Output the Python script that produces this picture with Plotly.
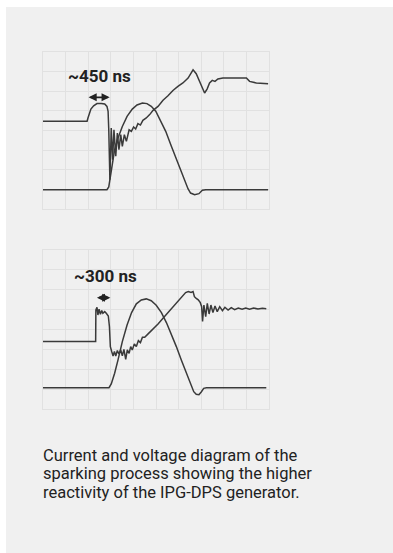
import plotly.graph_objects as go

# ---- data (oscilloscope divisions: x 0..10, y 0..8) ----
top_voltage_x = [0, 1.95, 1.99, 2.04, 2.12, 2.24, 2.39, 2.58, 2.73, 2.83, 2.88, 2.91, 2.94, 2.96,
                 3.02, 3.08, 3.14, 3.22, 3.29, 3.36, 3.44, 3.51, 3.60, 3.69, 3.81, 3.91, 4.01, 4.10,
                 4.20, 4.31, 4.42, 4.57, 4.72, 4.87, 5.09, 5.31, 5.53, 5.75, 5.97, 6.19, 6.42, 6.64,
                 6.78, 6.96, 7.15, 7.26, 7.37, 7.49, 7.61, 7.74, 7.96, 9.00, 9.14, 9.44, 9.96]
top_voltage_y = [4.46, 4.46, 4.63, 4.85, 5.08, 5.25, 5.36, 5.37, 5.34, 5.22, 4.97, 4.03, 2.51, 1.49,
                 4.12, 2.51, 4.03, 2.68, 3.86, 3.02, 3.78, 3.19, 3.78, 3.44, 4.03, 3.95, 4.17, 4.07,
                 4.34, 4.27, 4.51, 4.63, 4.80, 5.02, 5.22, 5.53, 5.76, 6.03, 6.24, 6.41, 6.66, 7.08,
                 6.88, 6.41, 5.90, 6.10, 6.41, 6.54, 6.49, 6.61, 6.66, 6.66, 6.49, 6.41, 6.37]

top_current_x = [0, 2.83, 2.91, 2.98, 3.07, 3.17, 3.32, 3.51, 3.72, 3.95, 4.16, 4.40, 4.60, 4.79,
                 4.99, 5.19, 5.43, 5.68, 5.93, 6.19, 6.42, 6.53, 6.71, 6.90, 7.05, 7.20, 9.96]
top_current_y = [0.98, 0.98, 1.12, 1.58, 2.34, 3.02, 3.61, 4.20, 4.71, 5.08, 5.29, 5.39, 5.36, 5.22,
                 4.97, 4.54, 3.95, 3.19, 2.42, 1.66, 1.02, 0.81, 0.73, 0.78, 0.95, 0.98, 0.98]

bot_voltage_x = [0, 2.33, 2.34, 2.39, 2.43, 2.48, 2.54, 2.60, 2.65, 2.73, 2.80, 2.89, 2.94, 2.98,
                 3.04, 3.10, 3.16, 3.22, 3.29, 3.36, 3.44, 3.51, 3.58, 3.66, 3.73, 3.81, 3.88, 3.95,
                 4.04, 4.13, 4.22, 4.31, 4.40, 4.50, 4.65, 4.87, 5.09, 5.31, 5.53, 5.75, 5.97, 6.17,
                 6.31, 6.43, 6.55, 6.64, 6.70, 6.78, 6.87, 6.96, 7.02, 7.06, 7.12, 7.20, 7.27, 7.35,
                 7.43, 7.52, 7.61, 7.71, 7.82, 7.94, 8.05, 8.19, 8.33, 8.48, 8.64, 8.81, 8.97, 9.14,
                 9.32, 9.51, 9.71, 9.88]
bot_voltage_y = [3.39, 3.39, 4.98, 5.12, 4.73, 5.02, 4.77, 4.95, 4.82, 4.90, 4.82, 4.68, 4.14, 3.14,
                 2.89, 2.67, 2.89, 2.67, 2.94, 2.77, 2.97, 2.67, 3.00, 2.50, 2.97, 2.80, 3.14, 2.97,
                 3.27, 3.14, 3.44, 3.34, 3.61, 3.61, 3.78, 4.01, 4.28, 4.56, 4.85, 5.12, 5.40, 5.65,
                 5.86, 5.91, 5.86, 5.91, 5.65, 5.57, 5.49, 5.35, 5.15, 4.40, 5.23, 4.65, 5.32, 4.78,
                 5.23, 4.85, 5.18, 4.90, 5.15, 4.95, 5.12, 4.98, 5.10, 5.00, 5.08, 5.02, 5.08, 5.02,
                 5.08, 5.03, 5.07, 5.05]

bot_current_x = [0, 2.92, 3.02, 3.17, 3.32, 3.51, 3.72, 3.92, 4.13, 4.35, 4.57, 4.79, 5.01, 5.24,
                 5.46, 5.68, 5.90, 6.12, 6.34, 6.53, 6.67, 6.78, 6.90, 7.01, 7.11, 7.23, 9.88]
bot_current_y = [1.07, 1.07, 1.26, 1.80, 2.47, 3.39, 4.23, 4.85, 5.29, 5.49, 5.54, 5.45, 5.22, 4.85,
                 4.35, 3.78, 3.14, 2.47, 1.80, 1.21, 0.87, 0.74, 0.72, 0.87, 1.04, 1.07, 1.07]

top_label = "~450 ns"
bot_label = "~300 ns"
top_span = [1.95, 2.95]
bot_span = [2.32, 2.98]
caption_lines = ["Current and voltage diagram of the",
                 "sparking process showing the higher",
                 "reactivity of the IPG-DPS generator."]

# ---- figure ----
W, H = 393, 553
PANEL = "#f0f0f0"
GRID = "#e1e1e1"
TRACE = "#3a3a3a"

fig = go.Figure()

def add_pair(vx, vy, cx, cy, xa, ya):
    fig.add_trace(go.Scatter(x=vx, y=vy, mode="lines", line=dict(color=TRACE, width=1.5),
                             xaxis=xa, yaxis=ya, showlegend=False, hoverinfo="skip"))
    fig.add_trace(go.Scatter(x=cx, y=cy, mode="lines", line=dict(color=TRACE, width=1.5),
                             xaxis=xa, yaxis=ya, showlegend=False, hoverinfo="skip"))

add_pair(top_voltage_x, top_voltage_y, top_current_x, top_current_y, "x", "y")
add_pair(bot_voltage_x, bot_voltage_y, bot_current_x, bot_current_y, "x2", "y2")

def px_x(p):
    return p / W

def px_y(p):
    return 1 - p / H

ax_common = dict(showgrid=True, gridcolor=GRID, gridwidth=1, dtick=1, showticklabels=False,
                 ticks="", zeroline=False, showline=True, mirror=True, linecolor=GRID,
                 linewidth=1, fixedrange=True)

fig.update_layout(
    width=W, height=H,
    margin=dict(l=0, r=0, t=0, b=0),
    paper_bgcolor="white",
    plot_bgcolor="rgba(0,0,0,0)",
    xaxis=dict(domain=[px_x(43), px_x(269)], range=[0, 10], anchor="y", **ax_common),
    yaxis=dict(domain=[px_y(209), px_y(51.7)], range=[0, 8], anchor="x", **ax_common),
    xaxis2=dict(domain=[px_x(43), px_x(269)], range=[0, 10], anchor="y2", **ax_common),
    yaxis2=dict(domain=[px_y(409), px_y(250)], range=[0, 8], anchor="x2", **ax_common),
    shapes=[dict(type="rect", xref="paper", yref="paper", x0=px_x(6), x1=1,
                 y0=0, y1=px_y(7), fillcolor=PANEL, line=dict(width=0), layer="below")],
)

label_font = dict(family="Roboto", size=17, color="#222222", weight="bold")

fig.add_annotation(x=2.5, y=6.75, xref="x", yref="y", text=top_label, showarrow=False,
                   font=label_font)
fig.add_annotation(x=2.77, y=6.68, xref="x2", yref="y2", text=bot_label, showarrow=False,
                   font=label_font)

for (xs, yv, xr, yr) in [(top_span, 5.68, "x", "y"), (bot_span, 5.6, "x2", "y2")]:
    fig.add_annotation(x=xs[1], y=yv, ax=xs[0], ay=yv, xref=xr, yref=yr, axref=xr, ayref=yr,
                       text="", showarrow=True, arrowhead=2, arrowside="end+start",
                       arrowsize=0.9, arrowwidth=1.8, arrowcolor="#222222", standoff=0,
                       startstandoff=0)

for i, line in enumerate(caption_lines):
    fig.add_annotation(x=px_x(41), y=px_y(455 + i * 18.5), xref="paper", yref="paper",
                       xanchor="left", yanchor="middle", text=line, showarrow=False,
                       font=dict(family="Roboto", size=16.5, color="#222222"))

fig.write_html("out.html", config={"displayModeBar": False, "staticPlot": True},
               post_script="document.body.style.margin='0px';")
